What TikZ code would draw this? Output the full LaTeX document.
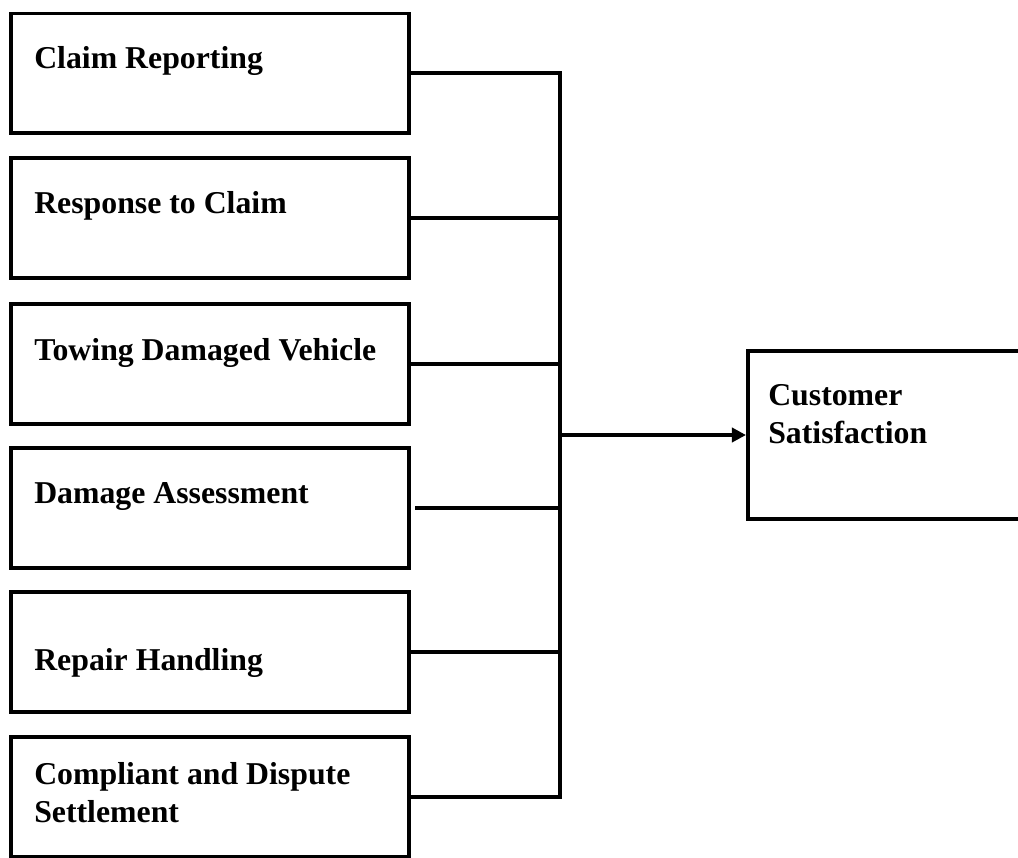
\documentclass[tikz,border=0pt]{standalone}
\usepackage{fontspec}
\setmainfont{Liberation Serif}
\usetikzlibrary{arrows.meta}

\begin{document}
\begin{tikzpicture}[x=0.025cm,y=-0.025cm,
  box/.style={draw,line width=2.8pt,rectangle,inner sep=0pt,anchor=north west,minimum width=9.95cm,minimum height=2.99cm},
  lbl/.style={anchor=base west,inner sep=0pt,align=left,font=\fontsize{22.6}{27}\selectfont\bfseries},
  wire/.style={line width=2.8pt},
  feed/.style={wire,-{Triangle[length=10pt,width=10pt]}}]

  \begin{scope}
\clip (0,0) rectangle (1018,857);
\node[box] (claim) at (9,11.5) {};
\node[box] (resp) at (9,156) {};
\node[box] (tow) at (9,302) {};
\node[box] (dmg) at (9,446) {};
\node[box] (repair) at (9,590) {};
\node[box] (settle) at (9,735) {};
\node[box,minimum width=8cm,minimum height=4.2cm] (cust) at (746,349) {};

\node[lbl] (claimtxt) at (34,68) {Claim Reporting};
\node[lbl] (resptxt) at (34,213) {Response to Claim};
\node[lbl] (towtxt) at (34,360) {Towing Damaged Vehicle};
\node[lbl] (dmgtxt) at (34,503) {Damage Assessment};
\node[lbl] (repairtxt) at (34,670) {Repair Handling};
\node[lbl] (settletxt) at (34,822) {Compliant and Dispute\\Settlement};
\node[lbl] (custtxt) at (768,443) {Customer\\Satisfaction};

\coordinate (bus) at (560,0);
\draw[wire] (claim.east) -- (claim.east -| bus) -- (settle.east -| bus) -- (settle.east);
\draw[wire] (resp.east) -- (resp.east -| bus);
\draw[wire] (tow.east) -- (tow.east -| bus);
\draw[wire,shorten <=0.1cm] (dmg.east) -- (dmg.east -| bus);
\draw[wire] (repair.east) -- (repair.east -| bus);
\draw[feed] (bus |- cust.west) -- (cust.west);
\end{scope}

\end{tikzpicture}
\end{document}
